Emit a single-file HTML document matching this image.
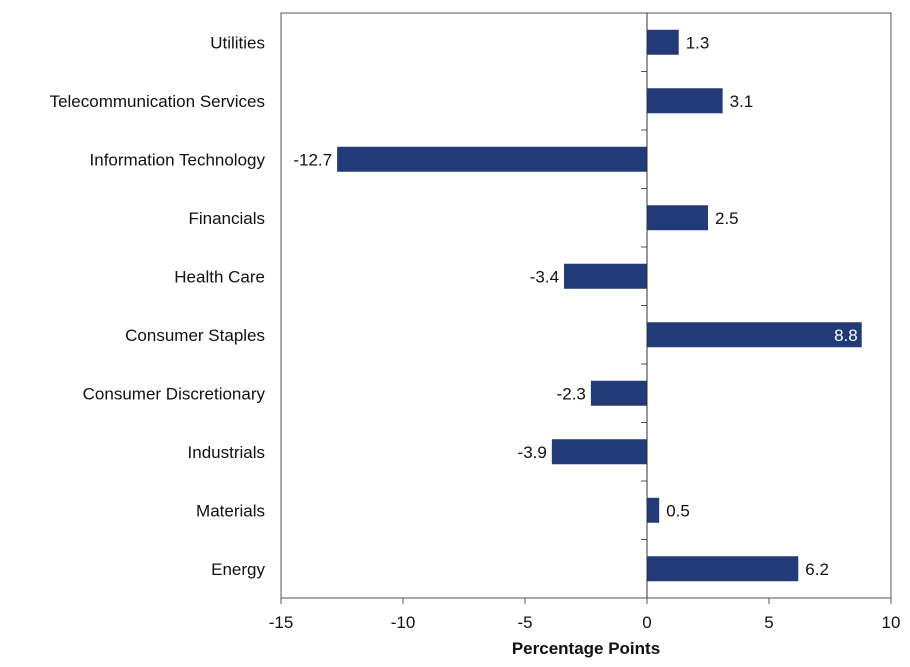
<!DOCTYPE html>
<html><head><meta charset="utf-8"><style>
body{margin:0;background:#fff;}
svg text{font-family:"Liberation Sans",Arial,sans-serif;}
</style></head><body>
<svg id="chart" width="910" height="662" xmlns="http://www.w3.org/2000/svg"></svg>
<script>
const categories=["Utilities","Telecommunication Services","Information Technology","Financials","Health Care","Consumer Staples","Consumer Discretionary","Industrials","Materials","Energy"];
const values=[1.3,3.1,-12.7,2.5,-3.4,8.8,-2.3,-3.9,0.5,6.2];
const valueLabels=["1.3","3.1","-12.7","2.5","-3.4","8.8","-2.3","-3.9","0.5","6.2"];
const xTicks=[-15,-10,-5,0,5,10];
const xTickLabels=["-15","-10","-5","0","5","10"];
const L=281,R=891,T=13,B=598,xmin=-15,xmax=10;
const x=v=>L+(v-xmin)/(xmax-xmin)*(R-L);
const band=(B-T)/categories.length;
const yc=i=>T+band*(i+0.5);
const svg=document.getElementById('chart');
const NS="http://www.w3.org/2000/svg";
function mk(tag,attrs,parent){const e=document.createElementNS(NS,tag);for(const k in attrs)e.setAttribute(k,attrs[k]);(parent||svg).appendChild(e);return e;}
const frame=mk('rect',{x:L,y:T,width:R-L,height:B-T,fill:'none',stroke:'#555','stroke-width':1});


xTicks.forEach((t,i)=>{
  const tk=mk('line',{x1:x(t),x2:x(t),y1:B,y2:B+6,stroke:'#555'});
  
  
  const lb=mk('text',{x:x(t),y:B+30,'text-anchor':'middle','font-size':17,fill:'#111'});
  lb.textContent=xTickLabels[i];
  
  
});
for(let i=0;i<=categories.length;i++){
  const tk=mk('line',{x1:x(0)-6,x2:x(0),y1:T+band*i,y2:T+band*i,stroke:'#555'});
  
  
}
categories.forEach((c,i)=>{
  const v=values[i];
  const x0=Math.min(x(0),x(v)),w=Math.abs(x(v)-x(0));
  const bar=mk('rect',{x:x0,y:yc(i)-12.5,width:w,height:25,fill:'#233a78'});
  
  
  const cl=mk('text',{x:265,y:yc(i)+6,'text-anchor':'end','font-size':17,fill:'#111'});
  cl.textContent=c;
  
  
  const vl=mk('text',{'font-size':17,y:yc(i)+6});
  if(x(v)+45>R){vl.setAttribute('x',x(v)-4);vl.setAttribute('text-anchor','end');vl.setAttribute('fill','#fff');}
  else if(v>=0){vl.setAttribute('x',x(v)+7);vl.setAttribute('fill','#111');}
  else{vl.setAttribute('x',x(v)-5);vl.setAttribute('text-anchor','end');vl.setAttribute('fill','#111');}
  vl.textContent=valueLabels[i];
  
  
});
const zl=mk('line',{x1:x(0),x2:x(0),y1:T,y2:B,stroke:'#333'});


const xt=mk('text',{x:586,y:654,'text-anchor':'middle','font-size':17,'font-weight':'bold',fill:'#111'});
xt.textContent='Percentage Points';


</script>
</body></html>
